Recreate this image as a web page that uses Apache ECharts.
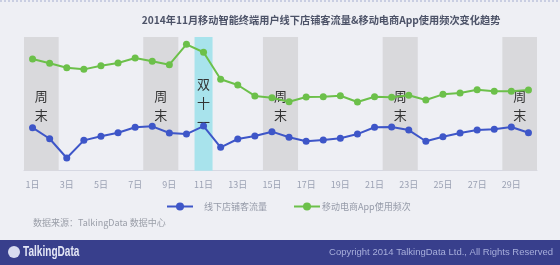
<!DOCTYPE html>
<html><head><meta charset="utf-8">
<script src="https://cdn.jsdelivr.net/npm/echarts@6/dist/echarts.min.js"></script>
<style>html,body{margin:0;padding:0;background:#eeeff4;}#c{width:560px;height:265px;}</style>
</head><body><div id="c"></div>
<script>
var days = ['1日','2日','3日','4日','5日','6日','7日','8日','9日','10日','11日','12日','13日','14日','15日','16日','17日','18日','19日','20日','21日','22日','23日','24日','25日','26日','27日','28日','29日','30日'];
var storeTraffic = [32.2,23.9,9.5,22.7,25.7,28.4,32.5,33.2,28.2,27.4,33.4,17.5,23.7,26.0,29.2,25.0,22.0,23.0,24.2,27.4,32.5,32.7,30.4,22.0,25.4,28.2,30.4,31.0,32.7,28.4];
var appFrequency = [83.5,80.3,77.0,75.8,78.5,80.6,84.3,81.8,79.3,94.5,88.6,68.4,64.1,55.9,54.6,51.6,55.1,55.3,56.1,51.4,55.3,54.9,56.4,52.9,57.1,58.1,60.6,59.4,59.4,60.4];
var weekendDays = ['1日','2日','8日','9日','15日','16日','22日','23日','29日','30日'];
var weekendLabelDays = ['1日','8日','15日','22日','29日'];
var specialDay = '11日';
var seriesNames = ['线下店铺客流量','移动电商App使用频次'];
var titleText = '2014年11月移动智能终端用户线下店铺客流量&移动电商App使用频次变化趋势';
var sourceText = '数据来源：TalkingData 数据中心';
var copyrightText = 'Copyright 2014 TalkingData Ltd., All Rights Reserved';

var bandData = days.map(function(d){
  if (d === specialDay) {
    return {value:100, itemStyle:{color:'#a8e3ec'}, label:{show:true, formatter:'双\n十\n一', offset:[0,-1]}};
  }
  if (weekendDays.indexOf(d) >= 0) {
    var lab = weekendLabelDays.indexOf(d) >= 0;
    return {value:100, itemStyle:{color:'#d9d9dc'}, label:{show:lab, formatter:'周\n末', offset:[8.5,2]}};
  }
  return {value:0, itemStyle:{color:'rgba(0,0,0,0)'}, label:{show:false}};
});

var chart = echarts.init(document.getElementById('c'), null, {renderer:'canvas'});
chart.setOption({
  backgroundColor:'#eeeff4',
  animation:false,
  grid:{left:24, right:23, top:37, bottom:94.3},
  xAxis:{type:'category', data:days, boundaryGap:true,
    axisLine:{lineStyle:{color:'#d6d8e2', width:1}},
    axisTick:{show:false},
    axisLabel:{interval:1, color:'#9ba1b3', fontSize:9, fontFamily:'Noto Sans CJK SC', margin:9},
    splitLine:{show:false}},
  yAxis:{type:'value', min:0, max:100, show:false},
  legend:[{
    data:[seriesNames[0]], left:161, top:197, itemWidth:26, itemHeight:10, itemGap:20,
    textStyle:{color:'#959aa8', fontSize:9, fontFamily:'Noto Sans CJK SC', padding:[0,0,0,6]}
  },{
    data:[seriesNames[1]], left:288, top:197, itemWidth:26, itemHeight:10,
    textStyle:{color:'#959aa8', fontSize:9, fontFamily:'Noto Sans CJK SC', padding:[0,0,0,-3]}
  }],
  graphic:[
    {type:'rect', left:0, top:240, shape:{width:560, height:25}, style:{fill:'#383f8c'}, z:0},
    {type:'line', shape:{x1:0,y1:1,x2:560,y2:1}, style:{stroke:'#c9cee2', lineWidth:2, lineDash:[2,2]}},
    {type:'text', x:321, y:20, style:{text:titleText, fill:'#4d5368', font:'bold 10.2px "Noto Sans CJK SC"', textAlign:'center', textVerticalAlign:'middle'}},
    {type:'text', x:33, y:223, style:{text:sourceText, fill:'#9a9ea8', font:'9px "Noto Sans CJK SC"', textAlign:'left', textVerticalAlign:'middle'}},
    {type:'text', x:553, y:252, style:{text:copyrightText, fill:'#a7aedb', font:'9.5px "Liberation Sans"', textAlign:'right', textVerticalAlign:'middle'}},
    {type:'circle', shape:{cx:14, cy:252, r:6}, style:{fill:'#d8dcf0'}},
    {type:'text', x:23, y:252, scaleX:0.72, style:{text:'TalkingData', fill:'#e4e7f6', font:'bold 14px "Liberation Sans"', textAlign:'left', textVerticalAlign:'middle'}}
  ],
  series:[
    {type:'bar', name:'bands', data:bandData, barWidth:18, silent:true, z:1,
      label:{position:'inside', color:'#333', fontSize:13, lineHeight:19, fontFamily:'Noto Sans CJK SC'}},
    {type:'line', name:seriesNames[0], data:storeTraffic, symbol:'circle', symbolSize:7, z:3,
      itemStyle:{color:'#3e56c8'}, lineStyle:{color:'#3e56c8', width:2}},
    {type:'line', name:seriesNames[1], data:appFrequency, symbol:'circle', symbolSize:7, z:3,
      itemStyle:{color:'#6cc04a'}, lineStyle:{color:'#6cc04a', width:2}}
  ]
});
</script></body></html>
